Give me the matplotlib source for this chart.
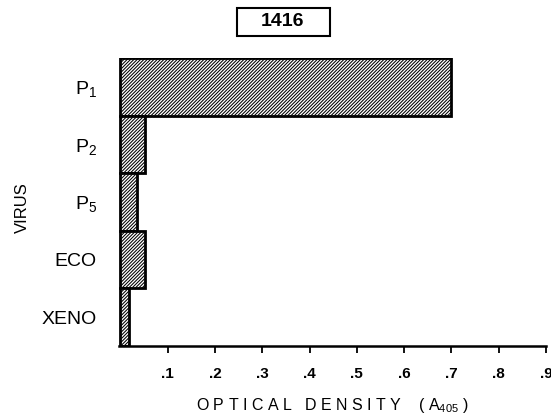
import matplotlib
matplotlib.use("Agg")
import matplotlib.pyplot as plt
from matplotlib.patches import Rectangle

plt.rcParams["font.family"] = ["Liberation Sans", "DejaVu Sans"]
plt.rcParams["mathtext.fontset"] = "custom"
plt.rcParams["mathtext.rm"] = "Liberation Sans"
plt.rcParams["mathtext.default"] = "rm"
plt.rcParams["hatch.linewidth"] = 0.75

viruses = ["P$_1$", "P$_2$", "P$_5$", "ECO", "XENO"]
optical_density = [0.70, 0.052, 0.035, 0.052, 0.018]
xticks = [0.1, 0.2, 0.3, 0.4, 0.5, 0.6, 0.7, 0.8, 0.9]
xtick_labels = [".1", ".2", ".3", ".4", ".5", ".6", ".7", ".8", ".9"]

fig = plt.figure(figsize=(5.51, 4.18), dpi=100)
ax = fig.add_axes([119 / 551, 1 - 346 / 418, (546 - 119) / 551, (346 - 58) / 418])

ypos = list(range(len(viruses)))[::-1]
ax.barh(ypos, optical_density, height=1.0, left=0, color="white",
        edgecolor="black", linewidth=2.0, hatch="//////////")

ax.set_xlim(-0.003, 0.9)
ax.set_ylim(-0.5, len(viruses) - 0.5)
ax.set_yticks(ypos)
ax.set_yticklabels(viruses, fontsize=14)
ax.tick_params(axis="y", length=0, pad=16)
ax.set_xticks(xticks)
ax.set_xticklabels(xtick_labels, fontsize=11, fontweight="bold")
ax.tick_params(axis="x", direction="out", length=5, width=1.3, pad=10)

for s in ["top", "right", "left"]:
    ax.spines[s].set_visible(False)
ax.spines["bottom"].set_linewidth(1.8)

ax.set_xlabel("O P T I C A L   D E N S I T Y    ( A$_{405}$ )", fontsize=11.5,
              labelpad=11)
fig.text(22 / 551, 1 - 208 / 418, "VIRUS", rotation=90, fontsize=12,
         ha="center", va="center")

fig.patches.append(Rectangle((237 / 551, 1 - 36 / 418), 93 / 551, 28 / 418,
                             transform=fig.transFigure, facecolor="white",
                             edgecolor="black", linewidth=1.5))
fig.text(283 / 551, 1 - 22 / 418, "1416", fontsize=14, fontweight="bold",
         ha="center", va="center")
fig.savefig("out.png", dpi=100)
